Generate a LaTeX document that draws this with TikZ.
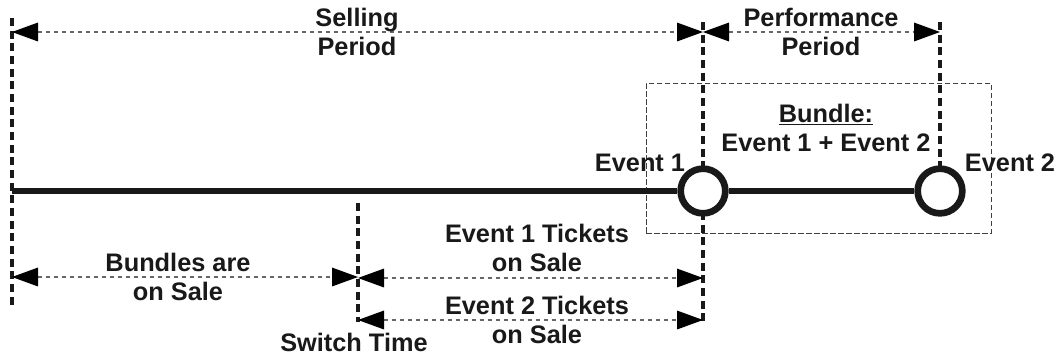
\documentclass[tikz,border=0pt]{standalone}
\usepackage{fontspec}
\setmainfont{Liberation Sans}
\usetikzlibrary{arrows.meta}
\begin{document}
\begin{tikzpicture}[x=0.75pt,y=-0.75pt,
  lbl/.style={font=\bfseries\fontsize{19}{21.8}\selectfont, align=center, text=black!90, inner sep=0pt},
  dim/.style={draw=black!60, line width=0.8pt, dash pattern=on 3.5pt off 2.5pt,
    {Triangle[length=19.5pt,width=14pt,black]}-{Triangle[length=19.5pt,width=14pt,black]}},
  guide/.style={draw=black!90, line width=2.6pt, dash pattern=on 6pt off 3.5pt},
  boxline/.style={draw=black!75, line width=0.6pt, dash pattern=on 4pt off 2pt},
  axis/.style={draw=black!90, line width=4.5pt},
  event/.style={circle, draw=black!90, fill=white, line width=5pt, minimum size=33.5pt, inner sep=0pt}]
\path[fill=white] (0,0) rectangle (1064,358);
\useasboundingbox (0,0) rectangle (1064,358);

% coordinates
\coordinate (L0) at (12,18);
\coordinate (L1) at (12,308);
\coordinate (E1t) at (703,22);
\coordinate (E1b) at (703,326);
\coordinate (E2t) at (940,22);
\coordinate (E2b) at (940,172);
\coordinate (Swt) at (358,203);
\coordinate (Swb) at (358,322);
\coordinate (start) at (12,191);

% bundle box
\node[boxline, draw, minimum width=345*0.75pt, minimum height=150*0.75pt, anchor=north west, inner sep=0pt] (box) at (646,83) {};

% guides
\draw[guide] (L0) -- (L1);
\draw[guide] (E1t) -- (E1b);
\draw[guide] (E2t) -- (E2b);
\draw[guide] (Swt) -- (Swb);

% timeline
\node[event] (ev1) at (703,191) {};
\node[event] (ev2) at (940,191) {};
\draw[axis] (start) -- (ev1.west);
\draw[axis] (ev1.east) -- (ev2.west);

% dimension arrows
\coordinate (s1) at (12,32);
\coordinate (s2) at (703,32);
\coordinate (p2) at (940,32);
\coordinate (b1) at (12,277);
\coordinate (b2) at (358,277);
\coordinate (t1a) at (358,278);
\coordinate (t1b) at (703,278);
\coordinate (t2a) at (358,320);
\coordinate (t2b) at (703,320);
\draw[dim] (s1) -- (s2);
\draw[dim] (s2) -- (p2);
\draw[dim] (b1) -- (b2);
\draw[dim] (t1a) -- (t1b);
\draw[dim] (t2a) -- (t2b);

% labels
\node[lbl] (selling) at (357,32) {Selling\\Period};
\node[lbl] (perf) at (821,32) {Performance\\Period};
\node[lbl] (bundle) at (826,128) {\underline{Bundle:}\\Event 1 + Event 2};
\node[lbl] (lab1) at (640,163) {Event 1};
\node[lbl] (lab2) at (1010,163) {Event 2};
\node[lbl] (bsale) at (178,277) {Bundles are\\on Sale};
\node[lbl] (t1sale) at (537,248) {Event 1 Tickets\\on Sale};
\node[lbl] (t2sale) at (537,320) {Event 2 Tickets\\on Sale};
\node[lbl] (switch) at (354,342) {Switch Time};
\end{tikzpicture}
\end{document}
